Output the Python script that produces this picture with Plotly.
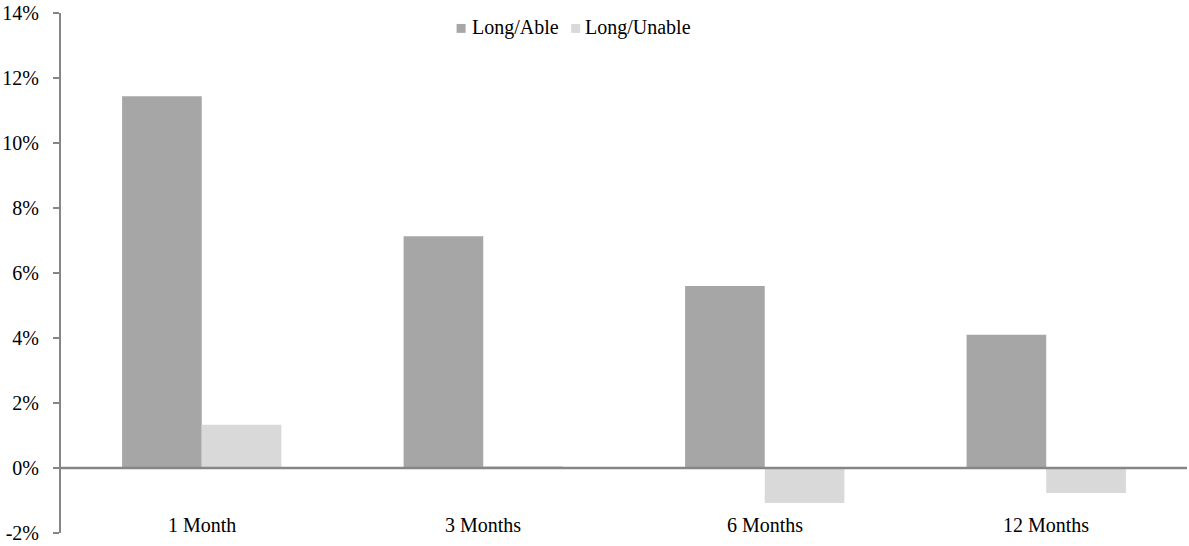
import plotly.graph_objects as go

categories = ["1 Month", "3 Months", "6 Months", "12 Months"]
long_able = [11.44, 7.13, 5.60, 4.10]
long_unable = [1.33, 0.06, -1.08, -0.77]
y_ticks = [-2, 0, 2, 4, 6, 8, 10, 12, 14]
y_tick_labels = [f"{v}%" for v in y_ticks]
series_names = ["Long/Able", "Long/Unable"]
series_colors = ["#A6A6A6", "#D9D9D9"]

FONT = "Liberation Serif, Times New Roman, serif"
FS = 20

W, H = 1189, 546
ML, MR, MT, MB = 57, 2, 10, 13
PW = W - ML - MR
PH = H - MT - MB


def px_x(fx):
    return (fx - ML) / PW


def px_y(fy):
    return 1 - (fy - MT) / PH


fig = go.Figure()
for name, vals, col in zip(series_names, [long_able, long_unable], series_colors):
    fig.add_trace(go.Bar(name=name, x=categories, y=vals,
                         marker=dict(color=col, line=dict(width=0))))

# category labels placed inside plot area near the bottom (Excel style)
for c in categories:
    fig.add_annotation(x=c, y=-1.75, xref="x", yref="y", text=c, showarrow=False,
                       font=dict(family=FONT, size=FS, color="#000"))

# zero line
fig.add_shape(type="line", xref="paper", yref="y", x0=0, x1=1, y0=0, y1=0,
              line=dict(color="#868686", width=2.5))

# legend (manual, Excel style)
legend_pos = [(454, 467), (569, 581)]
for (sq_x, tx_x), name, col in zip(legend_pos, series_names, series_colors):
    fig.add_shape(type="rect", xref="paper", yref="paper",
                  x0=px_x(sq_x), x1=px_x(sq_x + 9), y0=px_y(30), y1=px_y(21),
                  fillcolor=col, line=dict(width=0))
    fig.add_annotation(x=px_x(tx_x), y=px_y(25), xref="paper", yref="paper",
                       text=name, showarrow=False, xanchor="left", yanchor="middle",
                       font=dict(family=FONT, size=FS, color="#000"))

fig.update_layout(
    width=W, height=H,
    margin=dict(l=ML, r=MR, t=MT, b=MB),
    paper_bgcolor="white", plot_bgcolor="white",
    barmode="group", bargap=0.434, bargroupgap=0,
    font=dict(family=FONT, size=FS, color="#000"),
    showlegend=False,
    hovermode=False,
    xaxis=dict(showticklabels=False, showline=False, showgrid=False, zeroline=False,
               ticks=""),
    yaxis=dict(range=[-2, 14], tickvals=y_ticks, ticktext=y_tick_labels,
               showline=True, linecolor="#868686", linewidth=2,
               ticks="outside", ticklen=6, tickcolor="#868686", tickwidth=1.5,
               showgrid=False, zeroline=False, ticklabelstandoff=10,
               ticklabeloverflow="allow"),
)

fig.write_html("out.html",
               config={"displayModeBar": False},
               post_script="document.body.style.margin='0';document.body.style.overflow='hidden';")
